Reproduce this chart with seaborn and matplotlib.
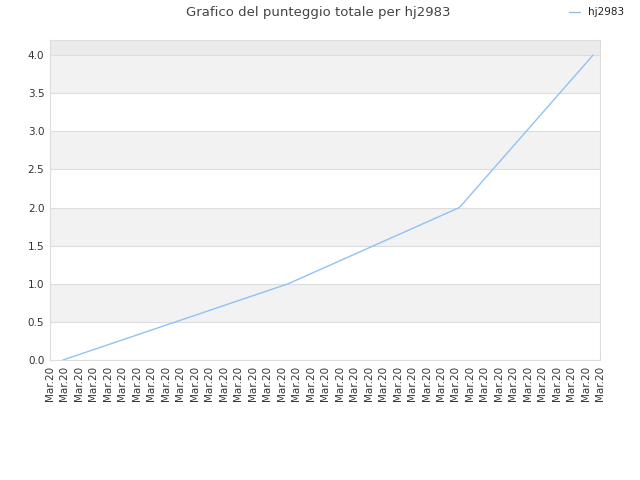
import pandas as pd
import numpy as np
import seaborn as sns
import matplotlib.pyplot as plt

# position of each point along the time axis (tick units) and total score
step = [0.9, 16.45, 28.27, 37.5]
score = [0.0, 1.0, 2.0, 4.0]
player = "hj2983"
tick_labels = ["Mar.20"] * 39
y_ticks = [0.0, 0.5, 1.0, 1.5, 2.0, 2.5, 3.0, 3.5, 4.0]

df = pd.DataFrame({"step": step, "score": score, "player": player})

sns.set_style("white")
plt.rcParams["font.family"] = ["DejaVu Sans"]

fig = plt.figure(figsize=(6.4, 4.8), dpi=100)
ax = fig.add_axes([0.078, 0.25, 0.86, 0.667])

# alternating bands
for i in range(len(y_ticks) - 1):
    if i % 2 == 1:
        ax.axhspan(y_ticks[i], y_ticks[i + 1], color="#f2f2f2", zorder=0, lw=0)
ax.axhspan(4.0, 4.2, color="#ebebeb", zorder=0, lw=0)
for y in y_ticks:
    ax.axhline(y, color="#dddddd", lw=0.8, zorder=1)

sns.lineplot(data=df, x="step", y="score", hue="player", palette=["#90c2f4"],
             linewidth=1, ax=ax, zorder=3)

ax.set_xlim(0, len(tick_labels) - 1)
ax.set_ylim(0, 4.2)
ax.set_xticks(range(len(tick_labels)))
ax.set_xticklabels(tick_labels, rotation=90)
ax.set_yticks(y_ticks)
ax.set_yticklabels([f"{v:.1f}" for v in y_ticks])
ax.tick_params(length=0, labelsize=7.5, labelcolor="#333333", pad=4)
ax.set_xlabel("")
ax.set_ylabel("")
for s in ax.spines.values():
    s.set_color("#dddddd")
    s.set_linewidth(0.8)

ax.legend(loc="upper right", bbox_to_anchor=(0.99, 1.004), bbox_transform=fig.transFigure,
          frameon=False, fontsize=7.5, handlelength=1.0, labelcolor="#222222")
fig.text(0.497, 0.988, "Grafico del punteggio totale per hj2983", ha="center", va="top",
         fontsize=9.5, color="#444444")

fig.savefig("out.png", dpi=100)
